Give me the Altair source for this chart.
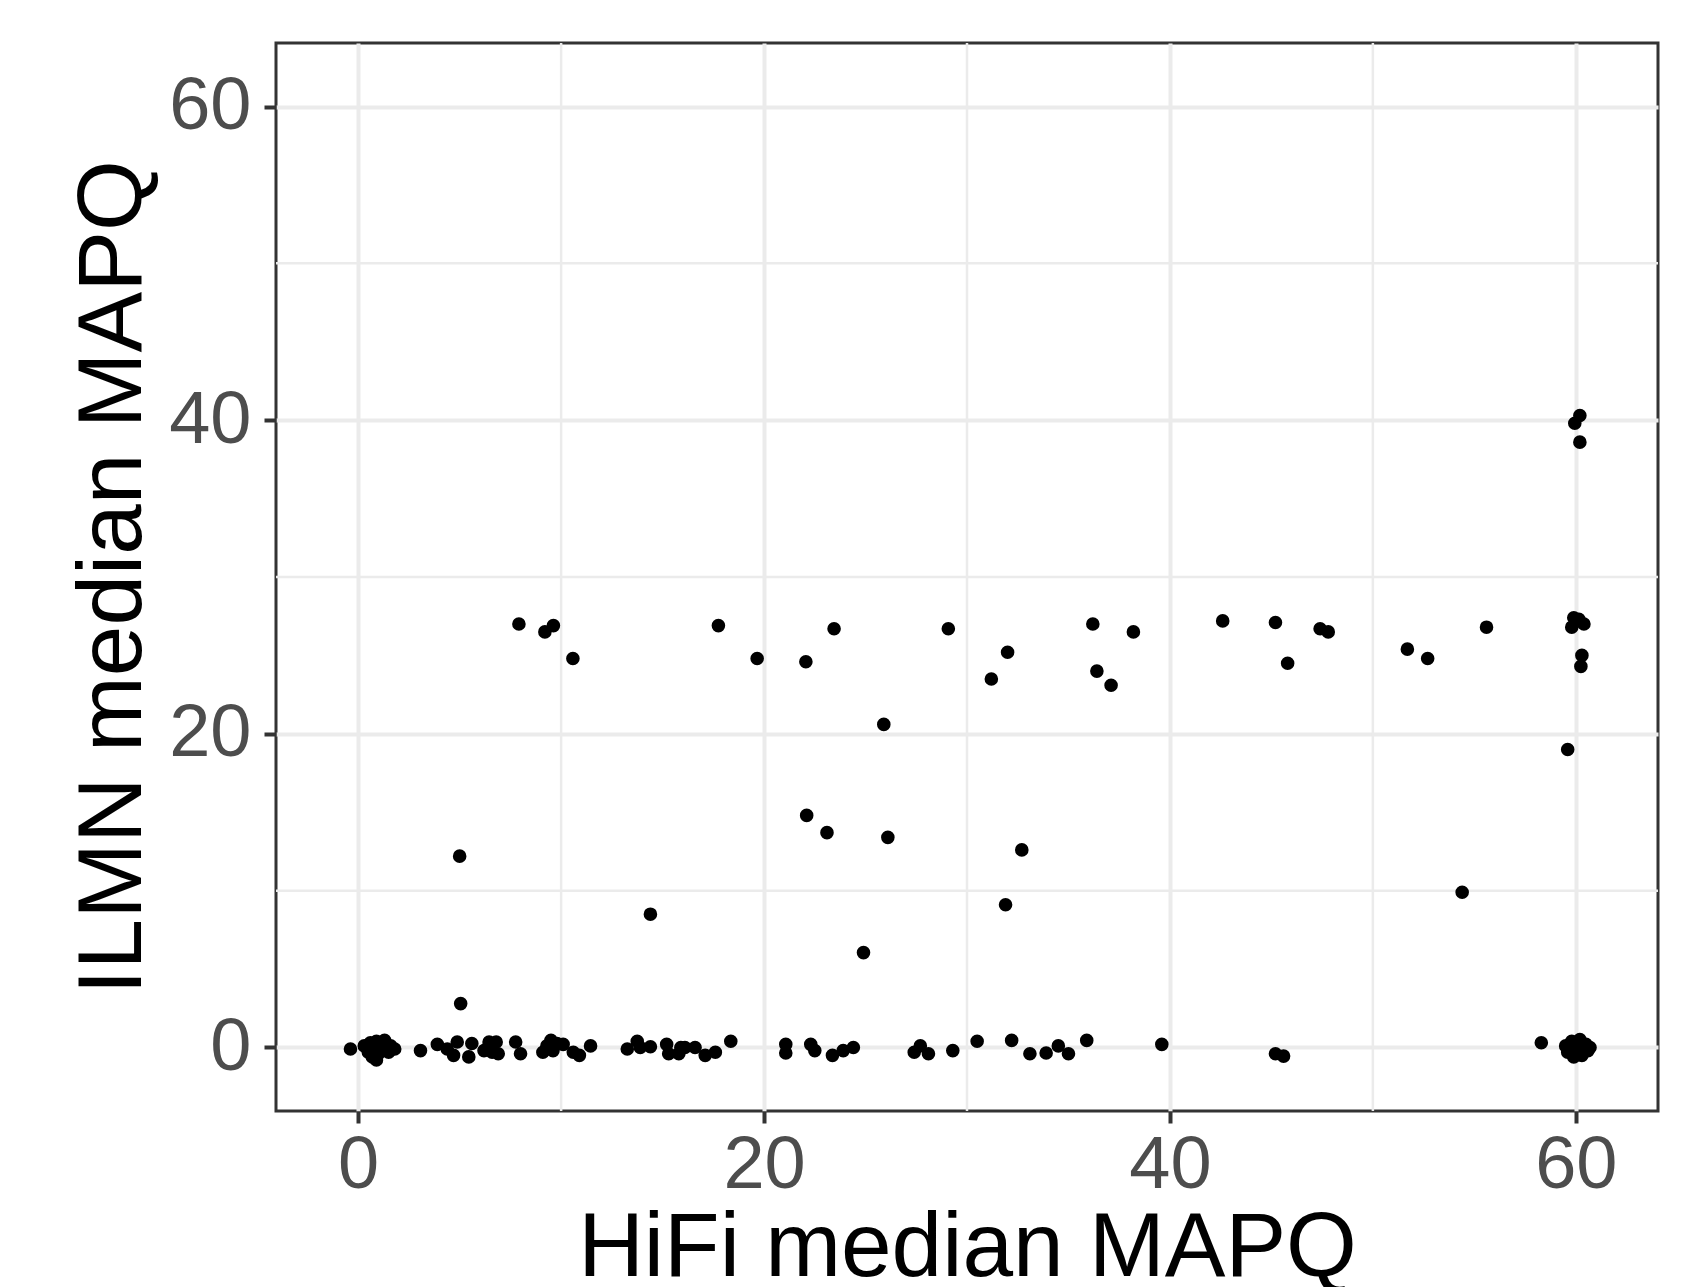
import altair as alt
import pandas as pd

# HiFi median MAPQ (x) and ILMN median MAPQ (y)
hifi_low = [-0.38, 0.3, 0.5, 0.6, 0.7, 0.8, 0.9, 1.0, 1.1, 1.2, 1.3, 1.4, 1.6, 1.8, 0.9, 1.5,
            3.07, 3.9, 4.39, 4.7, 4.88, 5.45, 5.6, 6.2, 6.45, 6.6, 6.8, 6.9, 6.4, 7.76, 8.0,
            9.1, 9.3, 9.5, 9.6, 9.8, 10.1, 10.6, 10.9, 11.45, 13.26, 13.75, 13.9, 14.4,
            15.2, 15.3, 15.8, 15.9, 16.1, 16.6, 17.1, 17.6, 18.36, 21.07, 21.07, 22.3, 22.5,
            23.37, 23.9, 24.4, 27.4, 27.7, 28.1, 29.3, 30.5, 32.2, 33.1, 33.9, 34.5, 35.0,
            35.9, 39.6, 45.2, 45.6, 58.3,
            59.5, 59.6, 59.8, 59.9, 60.0, 60.1, 60.2, 60.3, 60.4, 60.5, 60.6, 59.7, 60.0, 60.2, 60.7]
ilmn_low = [-0.1, 0.1, -0.3, 0.3, -0.6, 0.0, 0.4, -0.4, 0.2, -0.2, 0.45, 0.0, 0.1, -0.1, -0.8, -0.3,
            -0.2, 0.2, -0.1, -0.5, 0.35, -0.6, 0.25, -0.2, 0.35, -0.3, 0.35, -0.4, 0.0, 0.35, -0.4,
            -0.3, 0.1, 0.45, -0.2, 0.25, 0.2, -0.3, -0.5, 0.1, -0.1, 0.4, 0.0, 0.05,
            0.2, -0.4, -0.4, 0.0, 0.0, 0.0, -0.5, -0.3, 0.4, 0.2, -0.35, 0.2, -0.2,
            -0.5, -0.2, 0.0, -0.3, 0.1, -0.4, -0.2, 0.4, 0.45, -0.4, -0.35, 0.1, -0.4,
            0.45, 0.2, -0.4, -0.55, 0.3,
            0.1, -0.3, 0.4, -0.6, 0.2, -0.2, 0.5, -0.5, 0.0, 0.2, -0.2, -0.1, -0.4, 0.0, 0.0]

hifi_high = [7.92, 9.2, 9.62, 10.58, 17.75, 19.66, 22.06, 23.45, 29.08, 31.2, 32.0, 36.2, 36.4,
             37.1, 38.2, 42.6, 45.2, 45.8, 47.4, 47.8, 51.7, 52.7, 55.6, 59.9, 60.15, 59.8,
             60.4, 60.3, 60.25, 59.6, 59.95, 60.2, 60.2, 25.9, 22.1, 23.1, 26.1, 32.7, 5.0,
             14.4, 31.9, 54.4, 24.9, 5.05]
ilmn_high = [27.0, 26.5, 26.9, 24.8, 26.9, 24.8, 24.6, 26.7, 26.7, 23.5, 25.2, 27.0, 24.0,
             23.1, 26.5, 27.2, 27.1, 24.5, 26.7, 26.5, 25.4, 24.8, 26.8, 27.4, 27.3, 26.8,
             27.0, 25.0, 24.3, 19.0, 39.8, 40.3, 38.6, 20.6, 14.8, 13.7, 13.4, 12.6, 12.2,
             8.5, 9.1, 9.9, 6.05, 2.8]

major_ticks = [0, 20, 40, 60]
minor_ticks = [10, 30, 50]
domain = [-4.05, 64.05]

df = pd.DataFrame({"hifi": hifi_low + hifi_high, "ilmn": ilmn_low + ilmn_high})
minor_df = pd.DataFrame({"v": minor_ticks})

xscale = alt.Scale(domain=domain, nice=False, zero=False)
yscale = alt.Scale(domain=domain, nice=False, zero=False)

xaxis = alt.Axis(values=major_ticks, title="HiFi median MAPQ", titleX=691, titleY=164,
                 titleAlign="center", titleBaseline="alphabetic", labelPadding=6)
yaxis = alt.Axis(values=major_ticks, title="ILMN median MAPQ", titleX=-136, titleY=534,
                 titleAlign="center", titleBaseline="alphabetic", titleAngle=-90,
                 labelPadding=13)

vgrid = alt.Chart(minor_df).mark_rule(color="#ebebeb", strokeWidth=2.5).encode(
    x=alt.X("v:Q", scale=xscale, axis=xaxis)
)
hgrid = alt.Chart(minor_df).mark_rule(color="#ebebeb", strokeWidth=2.5).encode(
    y=alt.Y("v:Q", scale=yscale, axis=yaxis)
)
points = alt.Chart(df).mark_circle(color="black", opacity=1, size=185).encode(
    x=alt.X("hifi:Q", scale=xscale, axis=xaxis),
    y=alt.Y("ilmn:Q", scale=yscale, axis=yaxis),
)

chart = alt.layer(vgrid, hgrid, points).properties(
    width=1382, height=1068,
    autosize=alt.AutoSizeParams(type="none"),
    padding={"left": 276, "top": 43, "right": 32, "bottom": 176},
    background="white",
).configure_view(
    stroke="#333333", strokeWidth=3
).configure_axis(
    domain=False,
    grid=True, gridColor="#ebebeb", gridWidth=4,
    ticks=True, tickColor="#333333", tickWidth=4, tickSize=12,
    labelFont="Liberation Sans", labelFontSize=74, labelColor="#4d4d4d",
    titleFont="Liberation Sans", titleFontSize=91, titleColor="black",
    titleFontWeight="normal",
)

chart.save("out.html", embed_options={"renderer": "svg", "actions": False})
